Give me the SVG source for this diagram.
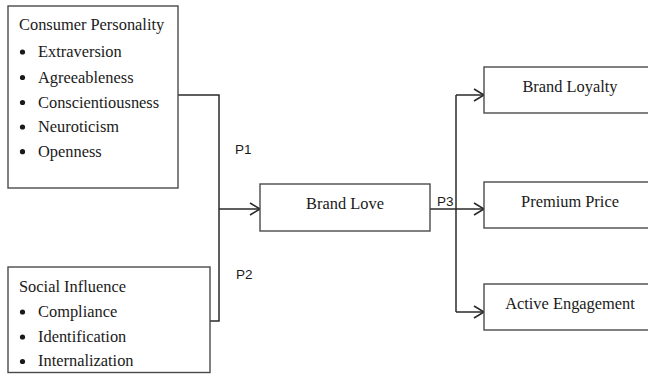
<svg xmlns="http://www.w3.org/2000/svg" width="648" height="374" viewBox="0 0 648 374">
  <style>
    .box { fill: #ffffff; stroke: #4a4a4a; stroke-width: 1.4; }
    .t { font-family: "Liberation Serif", "Times New Roman", serif; font-size: 16.4px; fill: #1a1a1a; }
    .c { text-anchor: middle; }
    .p { font-family: "Liberation Sans", Arial, sans-serif; font-size: 13.5px; fill: #1a1a1a; }
    .ln { fill: none; stroke: #2a2a2a; stroke-width: 1.5; }
    .dot { fill: #1a1a1a; }
  </style>
  <defs>
    <marker id="arr" markerUnits="userSpaceOnUse" markerWidth="14" markerHeight="16" refX="11" refY="7" orient="auto">
      <path d="M1,1 L11,7 L1,13" fill="none" stroke="#2a2a2a" stroke-width="1.6"/>
    </marker>
  </defs>
  <rect width="648" height="374" fill="#ffffff"/>

  <g id="connectors">
    <path class="ln" d="M178,95 H219 V321 H210"/>
    <path class="ln" d="M219,209 H260" marker-end="url(#arr)"/>
    <path class="ln" d="M430,209 H484" marker-end="url(#arr)"/>
    <path class="ln" d="M456,95 V312"/>
    <path class="ln" d="M456,95 H484" marker-end="url(#arr)"/>
    <path class="ln" d="M456,312 H484" marker-end="url(#arr)"/>
    <text class="p" x="235" y="154">P1</text>
    <text class="p" x="236" y="279">P2</text>
    <text class="p" x="437" y="206">P3</text>
  </g>

  <g id="consumer-personality">
    <rect class="box" x="8" y="6" width="170" height="182"/>
    <text class="t" x="19" y="29.5">Consumer Personality</text>
    <circle class="dot" cx="22.5" cy="52" r="2.6"/>
    <text class="t" x="38" y="57">Extraversion</text>
    <circle class="dot" cx="22.5" cy="77.5" r="2.6"/>
    <text class="t" x="38" y="82.5">Agreeableness</text>
    <circle class="dot" cx="22.5" cy="102.5" r="2.6"/>
    <text class="t" x="38" y="107.5">Conscientiousness</text>
    <circle class="dot" cx="22.5" cy="127" r="2.6"/>
    <text class="t" x="38" y="132">Neuroticism</text>
    <circle class="dot" cx="22.5" cy="151.7" r="2.6"/>
    <text class="t" x="38" y="156.7">Openness</text>
  </g>

  <g id="social-influence">
    <rect class="box" x="8" y="267" width="202" height="105.5"/>
    <text class="t" x="19" y="291.5">Social Influence</text>
    <circle class="dot" cx="22.5" cy="312" r="2.6"/>
    <text class="t" x="38" y="316.5">Compliance</text>
    <circle class="dot" cx="22.5" cy="337" r="2.6"/>
    <text class="t" x="38" y="341.5">Identification</text>
    <circle class="dot" cx="22.5" cy="361.5" r="2.6"/>
    <text class="t" x="38" y="366">Internalization</text>
  </g>

  <g id="brand-love">
    <rect class="box" x="260" y="184" width="170" height="47"/>
    <text class="t c" x="345" y="209">Brand Love</text>
  </g>

  <g id="brand-loyalty">
    <rect class="box" x="484" y="67" width="172" height="46"/>
    <text class="t c" x="570" y="91.5">Brand Loyalty</text>
  </g>

  <g id="premium-price">
    <rect class="box" x="484" y="182" width="172" height="46"/>
    <text class="t c" x="570" y="206.5">Premium Price</text>
  </g>

  <g id="active-engagement">
    <rect class="box" x="484" y="284" width="172" height="46"/>
    <text class="t c" x="570" y="309">Active Engagement</text>
  </g>
</svg>
